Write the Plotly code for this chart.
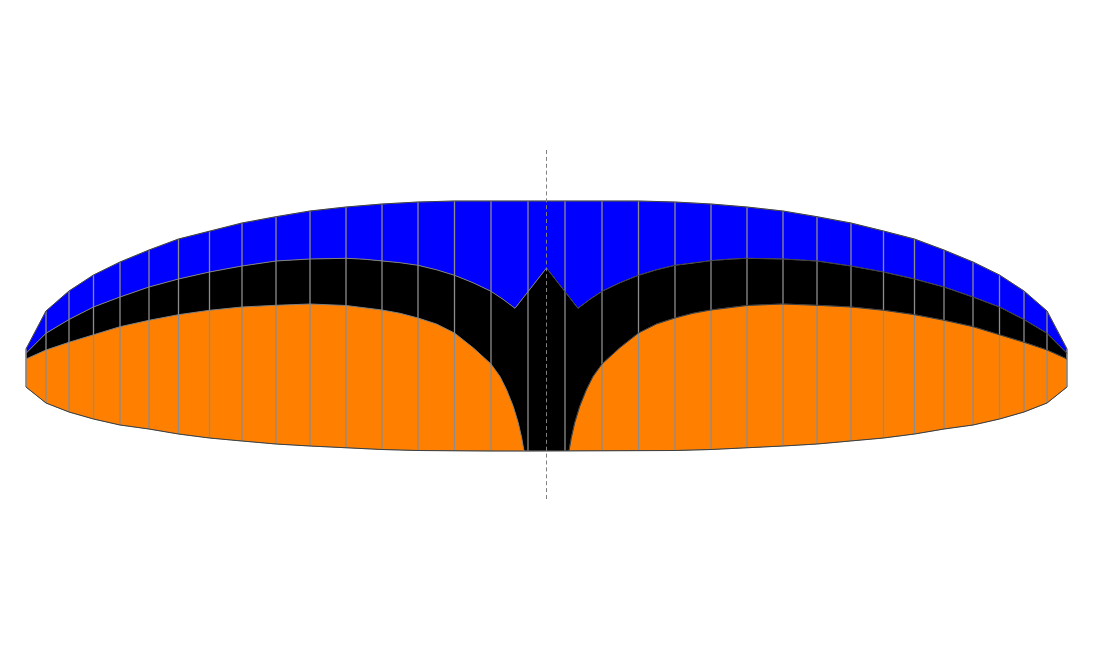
import plotly.graph_objects as go

# half span stations, tip first
rib_offset = [520.5, 500.5, 477.5, 453, 426.5, 397.5, 368, 337, 304.5, 270.5, 236.5, 200.5, 164.5, 128.5, 92, 55.5, 18.5]

# heights above the trailing edge at each rib
leading_edge = [102, 140, 160, 176, 189, 201, 212, 220, 228, 234.3, 240, 244, 247, 249, 250, 250, 250]
trailing_edge = [64, 48, 39, 32, 26, 22, 17, 13, 10, 7, 5, 3, 1.5, 0.5, 0, 0, 0]

# line between top sail and nose
nose_offset = [520.5, 500.5, 477.5, 453, 426.5, 397.5, 368, 337, 304.5, 270.5, 236.5, 200.5, 182.5, 164.5, 146.5, 128.5, 110, 92, 73.5, 55.5, 43.5, 31.5, 0]
nose_line = [97.7, 117.7, 131.5, 144, 154, 164, 172, 179, 185, 190, 192, 192.7, 191.8, 190.3, 188.3, 185.7, 181.2, 175.7, 168.3, 159.7, 151.7, 142.7, 183]

# line between nose and bottom sail
bottom_offset = [520.5, 500.5, 477.5, 453, 426.5, 397.5, 368, 337, 304.5, 270.5, 236.5, 200.5, 182.5, 164.5, 146.5, 128.5, 110, 92, 73, 66.5, 55.5, 46.5, 39.8, 33.2, 28.2, 24.8, 22.5]
bottom_line = [92, 101, 108.7, 116.5, 124.3, 130.7, 136.3, 140.7, 144, 145.7, 147, 145.5, 143.5, 141, 137.7, 133, 127, 118, 103, 97, 87, 74.5, 61, 44.5, 28, 13, 0]

center_x = [0, 0]
center_y = [301, -49]

GREY = "#808080"
RIB_GREY = "#8c8c8c"


def left(values):
    return [-v for v in values]


def closed_shape(xs_top, ys_top, xs_bot, ys_bot):
    return xs_top + xs_bot[::-1], ys_top + ys_bot[::-1]


def add_fill(fig, x, y, color):
    fig.add_trace(go.Scatter(x=x, y=y, mode="lines", fill="toself", fillcolor=color,
                             line=dict(width=0), hoverinfo="skip", showlegend=False))


def add_line(fig, x, y, color=GREY, width=1.0):
    fig.add_trace(go.Scatter(x=x, y=y, mode="lines", line=dict(color=color, width=width),
                             hoverinfo="skip", showlegend=False))


fig = go.Figure()

# top sail
top_x = left(rib_offset) + [0] + rib_offset[::-1]
top_y = leading_edge + [leading_edge[-1]] + leading_edge[::-1]
te_y = trailing_edge + [trailing_edge[-1]] + trailing_edge[::-1]
nose_x = left(nose_offset) + nose_offset[-2::-1]
nose_y = nose_line + nose_line[-2::-1]

x, y = closed_shape(top_x, top_y, nose_x, nose_y)
add_fill(fig, x, y, "#0000ff")

# nose
x, y = closed_shape(nose_x, nose_y, top_x, te_y)
add_fill(fig, x, y, "#000000")

# bottom sail, one per side
rib_te_x = rib_offset + [22.5]
rib_te_y = trailing_edge + [0]
x, y = closed_shape(left(bottom_offset), bottom_line, left(rib_te_x), rib_te_y)
add_fill(fig, x, y, "#ff8000")
x, y = closed_shape(bottom_offset, bottom_line, rib_te_x, rib_te_y)
add_fill(fig, x, y, "#ff8000")

# ribs
rib_x = []
rib_y = []
for off, le, te in zip(rib_offset, leading_edge, trailing_edge):
    rib_x += [-off, -off, None, off, off, None]
    rib_y += [le, te, None, le, te, None]
add_line(fig, rib_x, rib_y, RIB_GREY, 1.3)

# outlines, grey first, the thin black goes on top
add_line(fig, top_x, top_y)
add_line(fig, top_x, te_y)
add_line(fig, [-rib_offset[0], -rib_offset[0], None, rib_offset[0], rib_offset[0]],
         [leading_edge[0], trailing_edge[0], None, leading_edge[0], trailing_edge[0]])
add_line(fig, top_x, top_y, "#000000", 0.5)
add_line(fig, top_x, te_y, "#000000", 0.5)

add_line(fig, nose_x, nose_y)
add_line(fig, left(bottom_offset), bottom_line)
add_line(fig, bottom_offset, bottom_line)
add_line(fig, nose_offset, nose_line, "#000000", 0.5)
add_line(fig, bottom_offset, bottom_line, "#000000", 0.5)

# centre line
fig.add_trace(go.Scatter(x=center_x, y=center_y, mode="lines",
                         line=dict(color=GREY, width=1, dash="4px,2.9px"),
                         hoverinfo="skip", showlegend=False))

fig.update_layout(
    width=1093, height=652,
    margin=dict(l=0, r=0, t=0, b=0),
    paper_bgcolor="white", plot_bgcolor="white",
    xaxis=dict(visible=False, range=[-546.5, 546.5]),
    yaxis=dict(visible=False, range=[-201, 451]),
)

fig.write_html("out.html", config={"displayModeBar": False},
               post_script="document.body.style.margin='0';window.dispatchEvent(new Event('resize'));")
